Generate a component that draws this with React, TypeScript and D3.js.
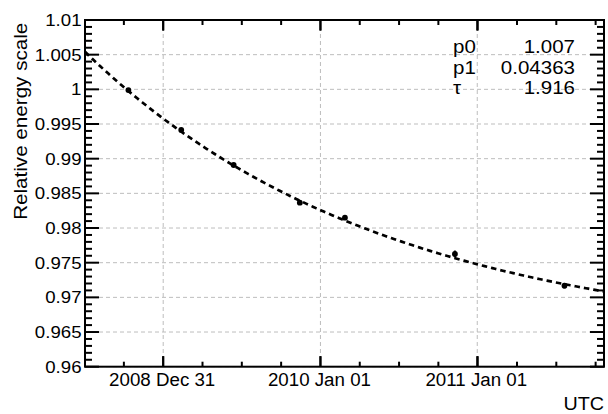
import React from "react";
import * as d3 from "d3";

// ---- data ----
const POINT_DATES = ["2008-10-11", "2009-02-11", "2009-06-13", "2009-11-14", "2010-02-27", "2010-11-10", "2011-07-23"];
const POINT_VALUES = [0.9999, 0.99414, 0.98909, 0.98365, 0.98149, 0.97625, 0.97168];
const POINT_ERRORS = [0.0002, 0.0002, 0.0002, 0.0002, 0.0002, 0.0005, 0.0004];

const X_TICK_DATES = ["2008-12-31", "2010-01-01", "2011-01-01"];
const X_TICK_LABELS = ["2008 Dec 31", "2010 Jan 01", "2011 Jan 01"];
const Y_TICKS = [0.96, 0.965, 0.97, 0.975, 0.98, 0.985, 0.99, 0.995, 1, 1.005, 1.01];
const Y_TICK_LABELS = ["0.96", "0.965", "0.97", "0.975", "0.98", "0.985", "0.99", "0.995", "1", "1.005", "1.01"];

const X_DOMAIN = ["2008-07-02", "2011-10-23"];
const Y_DOMAIN = [0.96, 1.01];

// fit: p0 - p1*(1-exp(-t/tau)), t in years
const FIT_NAMES = ["p0", "p1", "τ"];
const FIT_VALUES = ["1.007", "0.04363", "1.916"];
const P0 = 1.007, P1 = 0.04363, TAU = 1.916;
const FIT_T0 = "2008-06-06";

const X_TITLE = "UTC";
const Y_TITLE = "Relative energy scale";

const FONT = "'Liberation Sans', Arial, sans-serif";
const d = (s: string) => new Date(s + "T00:00:00Z");

export default function App() {
  const W = 608, H = 414;
  const L = 85, R = 604, T = 20, B = 366.7;
  const x = d3.scaleUtc().domain(X_DOMAIN.map(d)).range([L, R]);
  const y = d3.scaleLinear().domain(Y_DOMAIN).range([B, T]);

  const majors = X_TICK_DATES.map(d);
  const step = (majors[1].getTime() - majors[0].getTime()) / 4;
  const minors: Date[] = [];
  const x0 = x.domain()[0].getTime(), x1 = x.domain()[1].getTime();
  for (let t = majors[0].getTime(); t >= x0; t -= step) minors.push(new Date(t));
  for (let t = majors[0].getTime() + step; t <= x1; t += step) minors.push(new Date(t));

  const yMinors: number[] = [];
  for (let i = 0; i <= 50; i++) yMinors.push(0.96 + i * 0.001);

  // fit curve
  const t0 = d(FIT_T0).getTime();
  const yearMs = 365.25 * 24 * 3600 * 1000;
  const curvePts: [number, number][] = [];
  const N = 200;
  for (let i = 0; i <= N; i++) {
    const tm = x0 + (x1 - x0) * (i / N);
    const ty = (tm - t0) / yearMs;
    curvePts.push([tm, P0 - P1 * (1 - Math.exp(-ty / TAU))]);
  }
  const line = d3.line<[number, number]>().x((p) => x(new Date(p[0]))).y((p) => y(p[1]));

  const gridColor = "#bdbdbd";

  return (
    <svg width={W} height={H} style={{ position: "absolute", left: 0, top: 0, background: "#fff" }} fontFamily={FONT}>
      <rect x={0} y={0} width={W} height={H} fill="#fff" />
      {/* grid */}
      {Y_TICKS.map((v, i) => (
        <line key={"gy" + i} x1={L} x2={R} y1={y(v)} y2={y(v)} stroke={gridColor} strokeWidth={1} strokeDasharray="4,3" />
      ))}
      {majors.map((m, i) => (
        <line key={"gx" + i} x1={x(m)} x2={x(m)} y1={T} y2={B} stroke={gridColor} strokeWidth={1} strokeDasharray="4,3" />
      ))}

      {/* fit curve */}
      <path d={line(curvePts) || ""} fill="none" stroke="#000" strokeWidth={2.7} strokeDasharray="5.5,4" />

      {/* points */}
      {POINT_DATES.map((ds, i) => {
        const px = x(d(ds));
        return (
          <g key={"p" + i}>
            <line x1={px} x2={px} y1={y(POINT_VALUES[i] - POINT_ERRORS[i])} y2={y(POINT_VALUES[i] + POINT_ERRORS[i])} stroke="#000" strokeWidth={2} />
            <circle cx={px} cy={y(POINT_VALUES[i])} r={2.9} fill="#000" />
          </g>
        );
      })}

      {/* ticks */}
      {yMinors.map((v, i) => {
        const major = i % 5 === 0;
        const len = major ? 14 : 7;
        return (
          <g key={"yt" + i}>
            <line x1={L} x2={L + len} y1={y(v)} y2={y(v)} stroke="#000" strokeWidth={2} />
            <line x1={R - len} x2={R} y1={y(v)} y2={y(v)} stroke="#000" strokeWidth={2} />
          </g>
        );
      })}
      {minors.map((m, i) => {
        const isMajor = majors.some((mm) => Math.abs(mm.getTime() - m.getTime()) < step / 2);
        const len = isMajor ? 10.5 : 5;
        const px = x(m);
        return (
          <g key={"xt" + i}>
            <line x1={px} x2={px} y1={B} y2={B - len} stroke="#000" strokeWidth={2} />
            <line x1={px} x2={px} y1={T} y2={T + len} stroke="#000" strokeWidth={2} />
          </g>
        );
      })}
      {majors.map((m, i) => (
        <g key={"xm" + i}>
          <line x1={x(m)} x2={x(m)} y1={B} y2={B - 10.5} stroke="#000" strokeWidth={2} />
          <line x1={x(m)} x2={x(m)} y1={T} y2={T + 10.5} stroke="#000" strokeWidth={2} />
        </g>
      ))}

      {/* frame */}
      <rect x={L} y={T} width={R - L} height={B - T} fill="none" stroke="#000" strokeWidth={2} />

      {/* y tick labels */}
      {Y_TICKS.map((v, i) => (
        <text key={"yl" + i} transform={`translate(81.5,${y(v)}) scale(1.13,1)`} textAnchor="end" dy="0.36em" fontSize={16.5} fill="#000">
          {Y_TICK_LABELS[i]}
        </text>
      ))}
      {/* x tick labels */}
      {majors.map((m, i) => (
        <text key={"xl" + i} transform={`translate(${x(m) - 1},386) scale(1.04,1)`} textAnchor="middle" fontSize={18} fill="#000">
          {X_TICK_LABELS[i]}
        </text>
      ))}

      {/* axis titles */}
      <text transform="translate(604,410) scale(1.04,1)" textAnchor="end" fontSize={19} fill="#000">{X_TITLE}</text>
      <text transform="translate(27.3,22.7) rotate(-90) scale(1.11,1)" textAnchor="end" fontSize={18.6} fill="#000">{Y_TITLE}</text>

      {/* fit stats */}
      {FIT_NAMES.map((n, i) => (
        <g key={"fs" + i}>
          <text transform={`translate(453,${53 + i * 20.5}) scale(1.14,1)`} textAnchor="start" fontSize={18} fill="#000">{n}</text>
          <text transform={`translate(575,${53 + i * 20.5}) scale(1.14,1)`} textAnchor="end" fontSize={18} fill="#000">{FIT_VALUES[i]}</text>
        </g>
      ))}
    </svg>
  );
}
